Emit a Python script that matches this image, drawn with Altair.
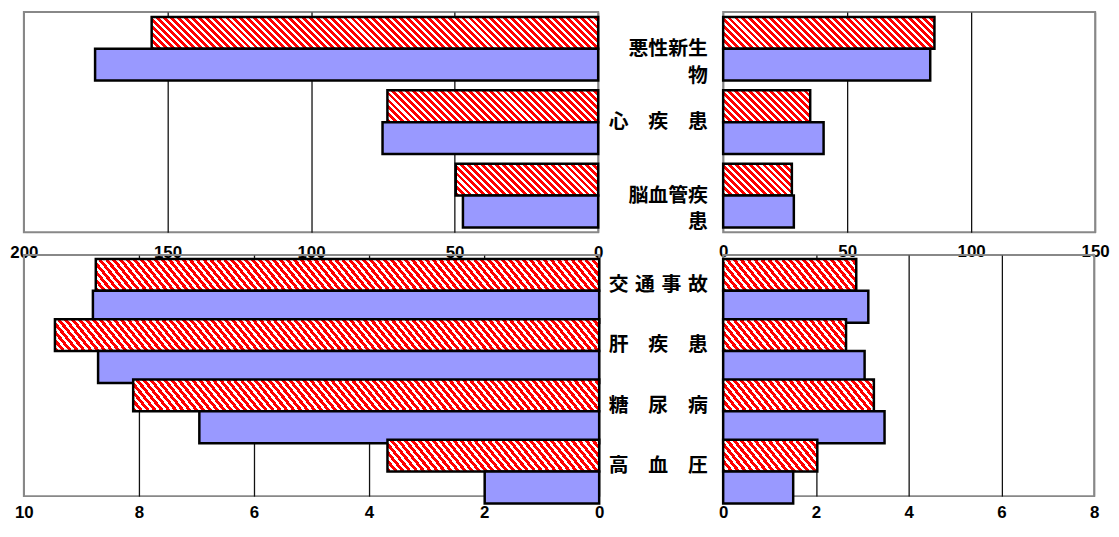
import altair as alt

# ---------------- data ----------------
series = ["県", "全国"]
top_causes = ["悪性新生物", "心疾患", "脳血管疾患"]
bottom_causes = ["交通事故", "肝疾患", "糖尿病", "高血圧"]

# left panels (男), right panels (女)
male_top_pref = [155.5, 73.4, 49.6]
male_top_nat = [175.2, 75.1, 47.1]
female_top_pref = [85.2, 35.1, 27.7]
female_top_nat = [83.5, 40.5, 28.5]

male_bot_pref = [8.75, 9.46, 8.10, 3.68]
male_bot_nat = [8.80, 8.71, 6.95, 1.99]
female_bot_pref = [2.87, 2.65, 3.25, 2.03]
female_bot_nat = [3.13, 3.05, 3.48, 1.51]

top_left_ticks = [0, 50, 100, 150, 200]
top_right_ticks = [0, 50, 100, 150]
bot_left_ticks = [0, 2, 4, 6, 8, 10]
bot_right_ticks = [0, 2, 4, 6, 8]

label_lines = {
    "悪性新生物": ["悪性新生", "物\u3000\u2002"],
    "心疾患": ["心\u3000疾\u3000患"],
    "脳血管疾患": ["脳血管疾", "患\u3000\u2002"],
    "交通事故": ["交\u2004通\u2004事\u2004故"],
    "肝疾患": ["肝\u3000疾\u3000患"],
    "糖尿病": ["糖\u3000尿\u3000病"],
    "高血圧": ["高\u3000血\u3000圧"],
}

# ---------------- styling ----------------
RED = "#FF0000"
BLUE = "#9999FF"
NUM_FONT = "Liberation Sans, Arial, sans-serif"
CJK_FONT = "Noto Sans CJK JP"


def hatch(w, h, period=7.0, frac=0.56):
    """Diagonal red/white stripes (\\ direction) as a bbox linear gradient."""
    r = h / w
    L = (1 + r) / (1 + r * r)
    S = w + h
    stops = []
    s = 0.0
    while s < S:
        a = round(s / S, 5)
        b = round(min((s + period * frac) / S, 1.0), 5)
        c = round(min((s + period) / S, 1.0), 5)
        stops += [
            {"offset": a, "color": RED},
            {"offset": b, "color": RED},
            {"offset": b, "color": "#FFFFFF"},
            {"offset": c, "color": "#FFFFFF"},
        ]
        s += period
    return {"gradient": "linear", "x1": 0, "y1": 1, "x2": L, "y2": 1 - L * r, "stops": stops}


def rows_for(causes, pref, nat, px_per_unit, bar_h):
    rows = []
    for c, a, b in zip(causes, pref, nat):
        rows.append({"cause": c, "series": series[0], "value": a,
                     "fillv": hatch(a * px_per_unit, bar_h)})
        rows.append({"cause": c, "series": series[1], "value": b, "fillv": BLUE})
    return rows


label_expr = "{" + ", ".join(
    "'%s': [%s]" % (k, ", ".join("'%s'" % s for s in v)) for k, v in label_lines.items()
) + "}[datum.value]"


def panel(causes, pref, nat, dmax, ticks, width, height, reverse, show_labels,
          label_pad, pad):
    n = len(causes)
    step = height / n
    bar_h = step * (1 - pad) / 2
    pxu = width / dmax
    rows = rows_for(causes, pref, nat, pxu, bar_h)
    edge_test = "datum.value === 0 || datum.value === %s" % dmax
    xaxis = alt.Axis(
        values=ticks, grid=True,
        gridColor={"condition": {"test": edge_test, "value": "#888888"}, "value": "#111111"},
        gridWidth=1.3, ticks=False, tickSize=0, domain=False, title=None,
        labelPadding=label_pad, labelBaseline="middle", labelFlush=False,
        labelFont=NUM_FONT, labelFontSize=17, labelFontWeight="bold",
        labelColor="#000000", labelOverlap=False, labelBound=False,
    )
    if show_labels:
        yaxis = alt.Axis(
            orient="left", title=None, ticks=False, tickSize=0, domain=False,
            labelExpr=label_expr, labelAlign="right", labelBaseline="middle",
            labelPadding=16, labelFont=CJK_FONT, labelFontSize=20,
            labelFontWeight="bold", labelColor="#000000", labelLineHeight=27,
            labelLimit=0,
        )
    else:
        yaxis = None
    return alt.Chart(alt.Data(values=rows)).mark_bar(
        stroke="black", strokeWidth=2.5
    ).encode(
        y=alt.Y("cause:N", sort=causes,
                scale=alt.Scale(paddingInner=pad, paddingOuter=pad / 2),
                axis=yaxis),
        yOffset=alt.YOffset("series:N", sort=series,
                            scale=alt.Scale(paddingInner=0, paddingOuter=0)),
        x=alt.X("value:Q",
                scale=alt.Scale(domain=[0, dmax], reverse=reverse, nice=False),
                axis=xaxis),
        fill=alt.Fill("fillv:N", scale=None),
    ).properties(width=width, height=height)


tl = panel(top_causes, male_top_pref, male_top_nat, 200, top_left_ticks,
           579, 222, True, False, 20.5, 0.133)
tr = panel(top_causes, female_top_pref, female_top_nat, 150, top_right_ticks,
           375, 222, False, True, 19, 0.133)
bl = panel(bottom_causes, male_bot_pref, male_bot_nat, 10, bot_left_ticks,
           580, 243, True, False, 17, 0.13)
br = panel(bottom_causes, female_bot_pref, female_bot_nat, 8, bot_right_ticks,
           374, 243, False, True, 17, 0.13)

chart = alt.concat(
    tl, tr, bl, br, columns=2, bounds="flush",
    spacing={"row": 23, "column": 125},
).properties(
    padding={"left": 0, "top": 1, "right": 0, "bottom": 0},
    background="white",
).configure_view(stroke="#888888", strokeWidth=2)

chart.save("out.html", embed_options={"renderer": "svg", "actions": False})
